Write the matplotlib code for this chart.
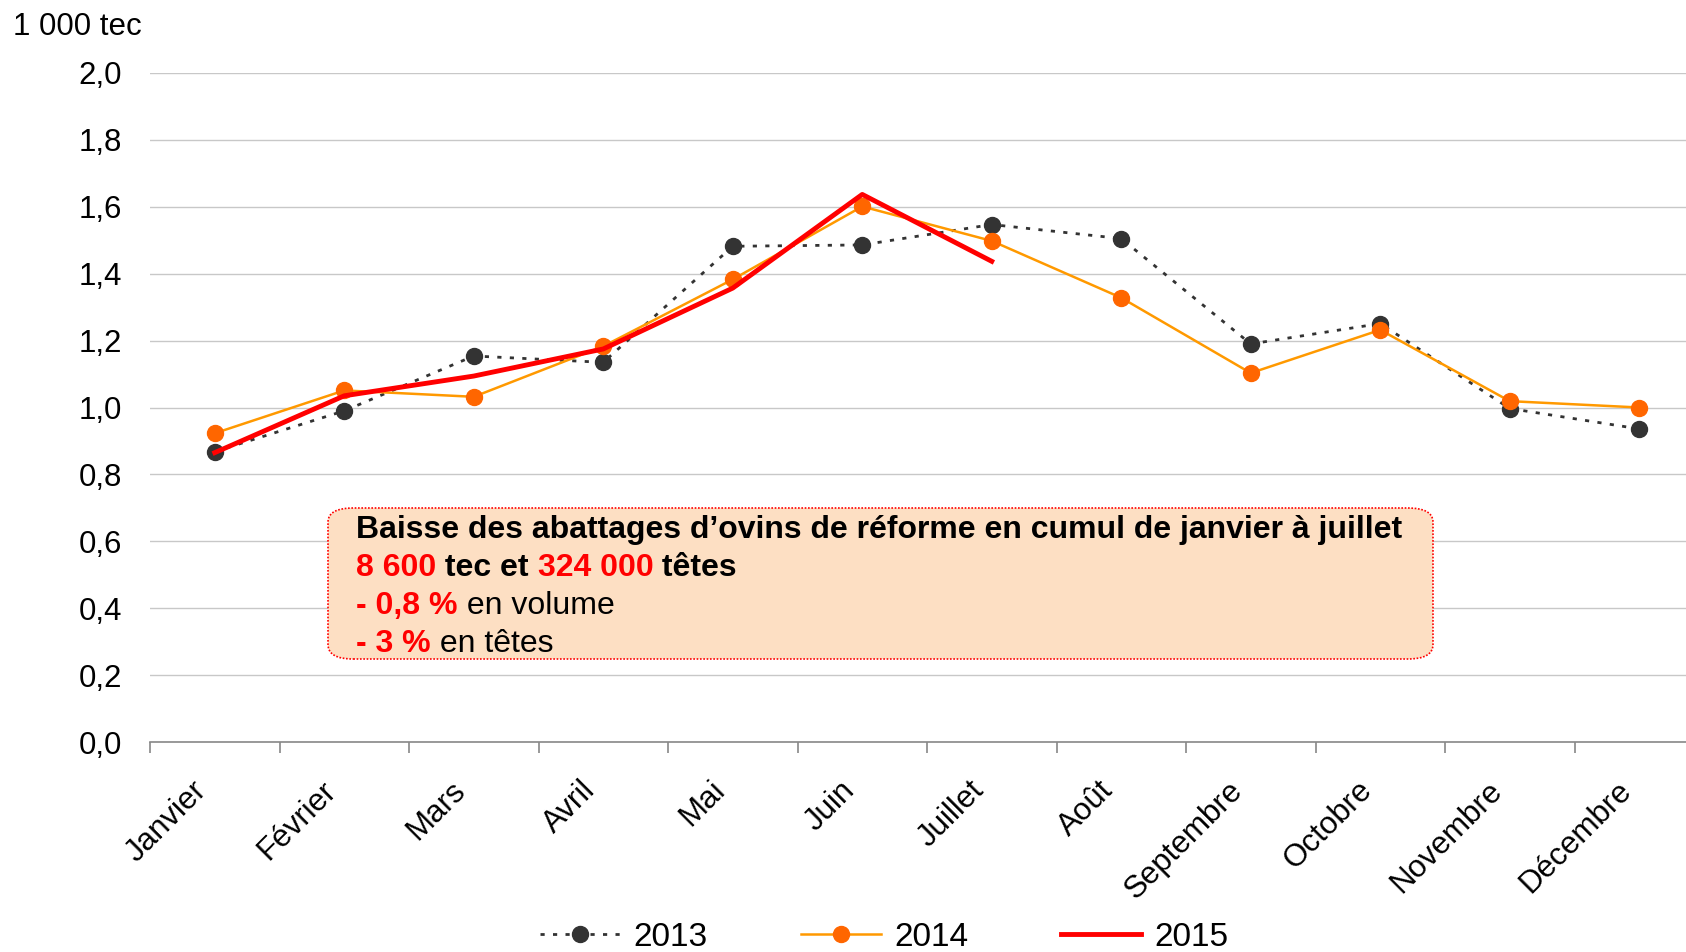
import matplotlib
matplotlib.use("Agg")
import matplotlib.pyplot as plt
import matplotlib.transforms as mtransforms
from matplotlib.patches import FancyBboxPatch
from matplotlib.lines import Line2D

plt.rcParams['font.family'] = ['Liberation Sans', 'DejaVu Sans']

months = ["Janvier", "Février", "Mars", "Avril", "Mai", "Juin", "Juillet",
          "Août", "Septembre", "Octobre", "Novembre", "Décembre"]
y2013 = [0.868, 0.990, 1.154, 1.135, 1.482, 1.486, 1.547, 1.505, 1.190, 1.251, 0.997, 0.936]
y2014 = [0.923, 1.051, 1.032, 1.183, 1.383, 1.601, 1.498, 1.328, 1.103, 1.232, 1.019, 1.000]
y2015 = [0.865, 1.035, 1.094, 1.175, 1.357, 1.637, 1.437]
yticks = [0.0, 0.2, 0.4, 0.6, 0.8, 1.0, 1.2, 1.4, 1.6, 1.8, 2.0]

W, H = 1686, 952
fig = plt.figure(figsize=(W / 100, H / 100), dpi=100)
left, right = 150 / W, 1704 / W
bottom, top = (H - 742) / H, (H - 73) / H
ax = fig.add_axes([left, bottom, right - left, top - bottom])

x = list(range(len(months)))
ax.plot(x, y2013, color='#333333', lw=2, ls=(0, (1.5, 3)), marker='o', ms=11.5,
        mfc='#333333', mec='#333333', zorder=3, clip_on=False)
ax.plot(x, y2014, color='#FF9900', lw=1.8, marker='o', ms=11.5,
        mfc='#FF6600', mec='#FF6600', zorder=4, clip_on=False)
ax.plot(x[:len(y2015)], y2015, color='#FF0000', lw=3.5, zorder=5, clip_on=False)

ax.set_xlim(-0.5, 11.5)
ax.set_ylim(0, 2.0)
ax.set_yticks(yticks)
ax.set_yticklabels([f"{v:.1f}".replace('.', ',') for v in yticks], fontsize=22.5)
ax.tick_params(axis='y', length=0, pad=20)
ax.grid(axis='y', color='#C8C8C8', lw=1)
ax.set_axisbelow(True)
for s in ['left', 'right', 'top']:
    ax.spines[s].set_visible(False)
ax.spines['bottom'].set_color('#888888')
ax.spines['bottom'].set_linewidth(1.2)

ax.set_xticks(x)
ax.set_xticklabels(months, rotation=45, ha='right', rotation_mode='anchor', fontsize=22.5)
ax.tick_params(axis='x', which='major', length=0, pad=24)
shift = mtransforms.ScaledTranslation(-23 / 100, 0, fig.dpi_scale_trans)
for lab in ax.get_xticklabels():
    lab.set_transform(lab.get_transform() + shift)
ax.set_xticks([i - 0.5 for i in range(13)], minor=True)
ax.tick_params(axis='x', which='minor', length=8, color='#888888', width=1.2, direction='out')

fig.text(13 / W, 1 - 27 / H, "1 000 tec", fontsize=22.5, va='center', ha='left')

# annotation box
bx0, by0, bx1, by1 = 328, 508, 1433, 659
box = FancyBboxPatch((bx0 / W, 1 - by1 / H), (bx1 - bx0) / W, (by1 - by0) / H,
                     boxstyle="round,pad=0,rounding_size=0.015",
                     transform=fig.transFigure, facecolor='#FDDFC3',
                     edgecolor='#FF0000', lw=1.2, ls=(0, (1, 1)), zorder=6)
fig.add_artist(box)

tx = 356 / W
lines_y = [530, 568, 606, 644]
fs = 23
fig.text(tx, 1 - lines_y[0] / H, "Baisse des abattages d’ovins de réforme en cumul de janvier à juillet",
         fontsize=fs, fontweight='bold', va='center', zorder=7)

def seq(yp, parts):
    renderer = fig.canvas.get_renderer()
    xcur = tx
    for txt, col, bold in parts:
        t = fig.text(xcur, 1 - yp / H, txt, fontsize=fs, color=col,
                     fontweight='bold' if bold else 'normal', va='center', zorder=7)
        bb = t.get_window_extent(renderer=renderer)
        xcur += bb.width / W

seq(lines_y[1], [("8 600", '#FF0000', True), (" tec et ", 'black', True),
                 ("324 000", '#FF0000', True), (" têtes", 'black', True)])
seq(lines_y[2], [("- 0,8 %", '#FF0000', True), (" en volume", 'black', False)])
seq(lines_y[3], [("- 3 %", '#FF0000', True), (" en têtes", 'black', False)])

handles = [
    Line2D([], [], color='#333333', lw=2, ls=(0, (1.5, 3)), marker='o', ms=11.5, mfc='#333333', mec='#333333'),
    Line2D([], [], color='#FF9900', lw=1.8, marker='o', ms=11.5, mfc='#FF6600', mec='#FF6600'),
    Line2D([], [], color='#FF0000', lw=3.5),
]
fig.legend(handles, ["2013", "2014", "2015"], loc='center', bbox_to_anchor=(0.5245, 1 - 937 / H),
           ncol=3, frameon=False, fontsize=24, handlelength=2.4, columnspacing=2.8, handletextpad=0.4)

fig.savefig("out.png", dpi=100)
